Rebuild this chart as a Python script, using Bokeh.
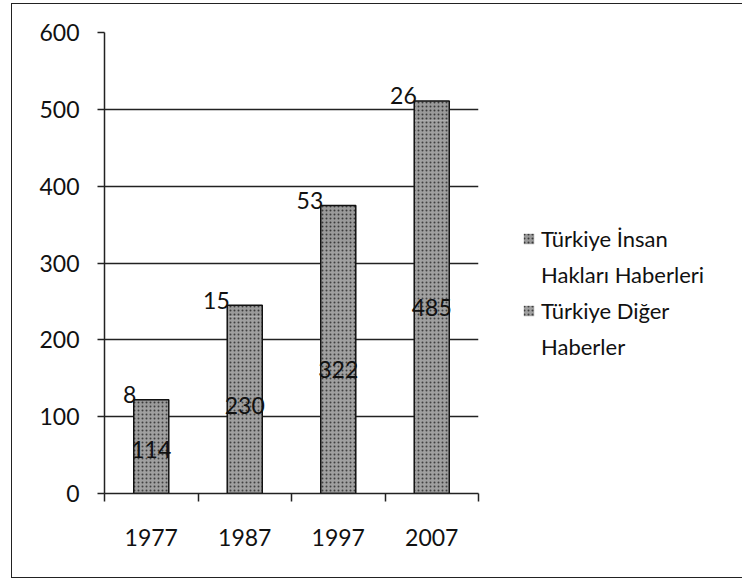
import numpy as np
from bokeh.plotting import figure
from bokeh.models import (Range1d, FixedTicker, LinearAxis, Legend, LegendItem,
                          ColumnDataSource, Grid)
from bokeh.core.properties import value
from bokeh.embed import file_html
from bokeh.resources import INLINE

years = ["1977", "1987", "1997", "2007"]
other_news = [114, 230, 322, 485]       # Türkiye Diğer Haberler (bottom)
rights_news = [8, 15, 53, 26]           # Türkiye İnsan Hakları Haberleri (top)
y_ticks = [0, 100, 200, 300, 400, 500, 600]
legend_rights = ["Türkiye İnsan", "Hakları Haberleri"]
legend_other = ["Türkiye Diğer", "Haberler"]

FONT = "Lato"
xc = np.arange(len(years)) + 0.5
bounds = list(range(len(years) + 1))
bottom_tot = np.array(other_news)
total = bottom_tot + np.array(rights_news)

src = ColumnDataSource(dict(
    x=xc, other=other_news, rights=rights_news, total=total,
    mid_other=bottom_tot / 2.0,
    other_lbl=[str(v) for v in other_news],
    rights_lbl=[str(v) for v in rights_news],
))

p = figure(frame_width=374, frame_height=461, output_backend="svg", toolbar_location=None,
           x_range=Range1d(0, len(years)), y_range=Range1d(0, 600),
           min_border_left=92, min_border_right=250, min_border_top=28,
           min_border_bottom=84, x_axis_type=None, y_axis_type=None)
p.styles = {"border": "1.5px solid #222", "margin-left": "11px", "margin-top": "3px"}
p.outline_line_color = None
p.background_fill_color = "white"
p.border_fill_color = "white"

# y axis
yax = LinearAxis(ticker=FixedTicker(ticks=y_ticks))
yax.axis_line_color = "#222"
yax.axis_line_width = 1.5
yax.major_tick_out = 7
yax.major_tick_in = 0
yax.major_tick_line_color = "#222"
yax.major_tick_line_width = 1.5
yax.minor_tick_line_color = None
yax.major_label_standoff = 18
yax.major_label_text_font = FONT
yax.major_label_text_font_size = "23px"
yax.major_label_text_color = "#111"
p.add_layout(yax, "left")

# x axis: labels at category centres, tick marks at category boundaries
xax = LinearAxis(ticker=FixedTicker(ticks=list(xc), minor_ticks=bounds),
                 major_label_overrides={float(x): y for x, y in zip(xc, years)})
xax.axis_line_color = "#222"
xax.axis_line_width = 1.5
xax.major_tick_line_color = None
xax.major_tick_out = 0
xax.major_tick_in = 0
xax.minor_tick_line_color = "#222"
xax.minor_tick_line_width = 1.5
xax.minor_tick_out = 8
xax.minor_tick_in = 0
xax.major_label_standoff = 27
xax.major_label_text_font = FONT
xax.major_label_text_font_size = "23px"
xax.major_label_text_color = "#111"
p.add_layout(xax, "below")

grid = Grid(dimension=1, ticker=yax.ticker, grid_line_color="#222", grid_line_width=1.5)
p.add_layout(grid)

bw = 0.375
r_other = p.vbar(x="x", bottom=0, top="other", width=bw, source=src,
                 fill_color="#a0a0a0", line_color=None,
                 hatch_pattern="dot", hatch_color="#404040", hatch_scale=4, hatch_weight=1)
r_rights = p.vbar(x="x", bottom="other", top="total", width=bw, source=src,
                  fill_color="#9a9a9a", line_color=None,
                  hatch_pattern="dot", hatch_color="#3a3a3a", hatch_scale=4, hatch_weight=1)
r_outline = p.vbar(x="x", bottom=0, top="total", width=bw, source=src,
                   fill_alpha=0, line_color="#111", line_width=1.5)
# invisible renderer used only for legend continuation lines
r_blank = p.vbar(x="x", bottom=0, top="total", width=bw, source=src,
                 fill_alpha=0, line_alpha=0)

p.text(x="x", y="mid_other", text="other_lbl", source=src, text_align="center",
       text_baseline="middle", text_font=value(FONT), text_font_size="23px",
       text_color="#111")
p.text(x="x", y="total", text="rights_lbl", source=src, text_align="right",
       text_baseline="middle", x_offset=-15, y_offset=-5, text_font=value(FONT),
       text_font_size="23px", text_color="#111")

legend = Legend(items=[
    LegendItem(label=legend_rights[0], renderers=[r_rights]),
    LegendItem(label=legend_rights[1], renderers=[r_blank]),
    LegendItem(label=legend_other[0], renderers=[r_other]),
    LegendItem(label=legend_other[1], renderers=[r_blank]),
], location=(44, 133))
legend.label_text_font = FONT
legend.label_text_font_size = "22px"
legend.label_text_color = "#111"
legend.glyph_width = 13
legend.glyph_height = 13
legend.label_standoff = 6
legend.spacing = 9
legend.padding = 0
legend.margin = 0
legend.border_line_color = None
legend.background_fill_alpha = 0
p.add_layout(legend, "right")

open("out.html", "w").write(file_html(p, INLINE))
